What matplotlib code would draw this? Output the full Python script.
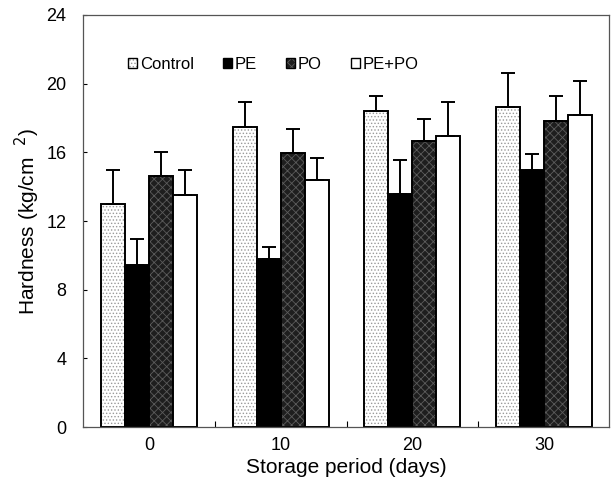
import matplotlib.pyplot as plt
import numpy as np

plt.rcParams['font.family'] = ['Liberation Sans', 'DejaVu Sans']
plt.rcParams['hatch.linewidth'] = 0.6

# storage days and treatments
days = ['0', '10', '20', '30']
treatments = ['Control', 'PE', 'PO', 'PE+PO']

# hardness means (kg/cm2) and upper error bars
control = [13.0, 17.45, 18.4, 18.65]
pe = [9.45, 9.8, 13.55, 15.0]
po = [14.6, 15.95, 16.65, 17.8]
pepo = [13.5, 14.4, 16.95, 18.15]

control_err = [2.0, 1.5, 0.9, 2.0]
pe_err = [1.5, 0.7, 2.0, 0.9]
po_err = [1.4, 1.4, 1.3, 1.5]
pepo_err = [1.45, 1.25, 2.0, 2.0]

means = [control, pe, po, pepo]
errs = [control_err, pe_err, po_err, pepo_err]

# fill / hatch style per treatment
faces = ['white', 'black', '#1e1e1e', 'white']
hatches = ['.....', None, 'xxxx', None]
hatch_cols = ['#9a9a9a', 'black', '#5c5c5c', 'black']

fig = plt.figure(figsize=(6.16, 4.91), dpi=100)
ax = fig.add_axes([0.135, 0.130, 0.853, 0.8395])

x = np.arange(len(days))
w = 0.182
for i in range(len(treatments)):
    pos = x + (i - 1.5) * w
    bars = ax.bar(pos, means[i], w, color=faces[i], edgecolor='black',
                  linewidth=1.4, hatch=hatches[i], label=treatments[i], zorder=2)
    if hatches[i] is not None:
        for b in bars:
            b._hatch_color = plt.matplotlib.colors.to_rgba(hatch_cols[i])
    ax.errorbar(pos, means[i], yerr=[np.zeros(len(days)), errs[i]], fmt='none',
                ecolor='black', elinewidth=1.4, capsize=5, capthick=1.4, zorder=3)

ax.set_xlim(-0.5, 3.49)
ax.set_ylim(0, 24)
ax.set_yticks([0, 4, 8, 12, 16, 20, 24])
ax.set_xticks(x)
ax.set_xticklabels(days)
ax.set_xticks([0.5, 1.5, 2.5], minor=True)
ax.tick_params(axis='x', which='major', length=0, labelsize=13, pad=7)
ax.tick_params(axis='x', which='minor', direction='in', length=4, width=0.8)
ax.tick_params(axis='y', direction='in', length=3, width=0.8, labelsize=13, pad=12)
for s in ax.spines.values():
    s.set_linewidth(0.9)
    s.set_color('#555555')

ax.set_xlabel('Storage period (days)', fontsize=15, labelpad=3)
ax.set_ylabel(r'Hardness (kg/cm  $^{2}$)', fontsize=15, labelpad=3)

leg = ax.legend(loc='center left', bbox_to_anchor=(0.073, 0.88), ncol=4, frameon=False,
                fontsize=12, handlelength=0.55, handleheight=0.55, handletextpad=0.15,
                columnspacing=1.75, borderaxespad=0)
for h in leg.legend_handles:
    h.set_linewidth(1.0)

plt.savefig('out.png', dpi=100)
